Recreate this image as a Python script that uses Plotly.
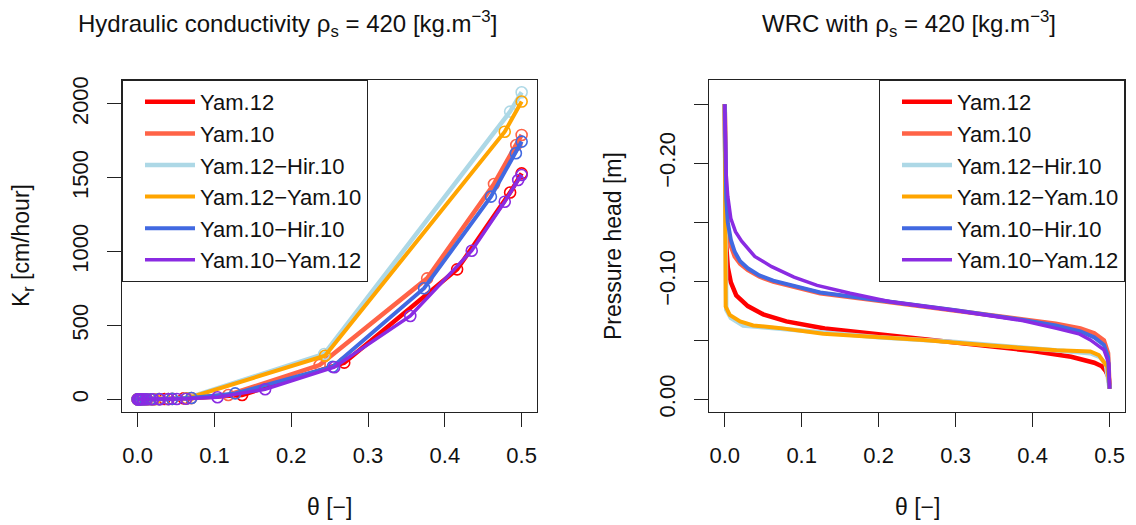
import plotly.graph_objects as go

W, H = 1136, 525

names = ['Yam.12', 'Yam.10', 'Yam.12−Hir.10', 'Yam.12−Yam.10', 'Yam.10−Hir.10', 'Yam.10−Yam.12']
colors = ['#ff0000', '#ff6347', '#add8e6', '#ffa500', '#4169e1', '#8a2be2']
widths = [4.5, 4.5, 4.5, 4, 4, 3.5]

# ---- hydraulic conductivity (left panel)
kr_theta = [
    [0, 0.001, 0.002, 0.004, 0.007, 0.012, 0.02, 0.035, 0.06, 0.136, 0.269, 0.416, 0.485, 0.5],
    [0, 0.001, 0.003, 0.006, 0.01, 0.017, 0.028, 0.045, 0.07, 0.118, 0.237, 0.377, 0.464, 0.493, 0.5],
    [0, 0.001, 0.003, 0.006, 0.012, 0.022, 0.04, 0.063, 0.243, 0.485, 0.5],
    [0, 0.001, 0.003, 0.006, 0.012, 0.022, 0.04, 0.064, 0.244, 0.478, 0.5],
    [0, 0.001, 0.003, 0.006, 0.01, 0.017, 0.028, 0.045, 0.07, 0.127, 0.254, 0.373, 0.46, 0.4925, 0.5],
    [0, 0.001, 0.002, 0.004, 0.007, 0.012, 0.02, 0.029, 0.04, 0.051, 0.063, 0.104, 0.166, 0.256, 0.355,
     0.435, 0.478, 0.4955, 0.5],
]
kr_values = [
    [0, 0, 0, 0.01, 0.05, 0.2, 0.6, 2, 6, 29, 248, 880, 1400, 1530],
    [0, 0, 0, 0.02, 0.1, 0.3, 1, 3, 8, 29, 232, 819, 1458, 1722, 1790],
    [0, 0, 0, 0.01, 0.1, 0.5, 2, 6, 307, 1948, 2079],
    [0, 0, 0, 0.01, 0.1, 0.5, 2, 6, 295, 1812, 2016],
    [0, 0, 0, 0.02, 0.1, 0.3, 1, 3, 9, 40, 220, 752, 1372, 1666, 1745],
    [0, 0, 0, 0, 0.01, 0.05, 0.2, 0.5, 1, 2, 4, 14, 68, 217, 564, 1006, 1338, 1485, 1519],
]

# ---- water retention curve (right panel)
wrc_theta = [
    [0, 0.0005, 0.001, 0.002, 0.004, 0.008, 0.015, 0.03, 0.05, 0.08, 0.13, 0.2, 0.3, 0.4, 0.45, 0.48,
     0.49, 0.495, 0.499, 0.5],
    [0, 0.0005, 0.001, 0.002, 0.004, 0.008, 0.013, 0.02, 0.03, 0.045, 0.063, 0.09, 0.124, 0.193, 0.3,
     0.388, 0.43, 0.462, 0.48, 0.4926, 0.498, 0.5],
    [0, 0.0005, 0.001, 0.002, 0.008, 0.024, 0.05, 0.1, 0.2, 0.3, 0.4, 0.45, 0.475, 0.487, 0.495, 0.5],
    [0, 0.0005, 0.001, 0.0013, 0.0065, 0.02, 0.037, 0.07, 0.128, 0.2, 0.258, 0.345, 0.431, 0.475, 0.486,
     0.497, 0.5],
    [0, 0.0005, 0.001, 0.002, 0.004, 0.008, 0.013, 0.02, 0.03, 0.045, 0.063, 0.09, 0.124, 0.193, 0.3,
     0.388, 0.43, 0.462, 0.48, 0.4926, 0.498, 0.5],
    [0, 0.0005, 0.001, 0.002, 0.004, 0.008, 0.014, 0.022, 0.039, 0.061, 0.09, 0.12, 0.163, 0.215, 0.302,
     0.388, 0.431, 0.46, 0.475, 0.4926, 0.499, 0.5],
]
wrc_head = [
    [-0.25, -0.2, -0.16, -0.13, -0.112, -0.099, -0.088, -0.079, -0.072, -0.066, -0.06, -0.055, -0.048,
     -0.041, -0.036, -0.031, -0.028, -0.024, -0.018, -0.009],
    [-0.25, -0.22, -0.19, -0.165, -0.145, -0.13, -0.121, -0.115, -0.1096, -0.104, -0.0997, -0.095,
     -0.0898, -0.0842, -0.0755, -0.0678, -0.064, -0.0601, -0.056, -0.05, -0.039, -0.009],
    [-0.25, -0.2, -0.14, -0.076, -0.069, -0.0625, -0.061, -0.058, -0.0525, -0.0485, -0.043, -0.0405,
     -0.039, -0.036, -0.03, -0.009],
    [-0.25, -0.2, -0.14, -0.0785, -0.0715, -0.066, -0.0625, -0.0605, -0.0555, -0.0525, -0.0503, -0.0455,
     -0.0415, -0.0405, -0.0375, -0.0276, -0.009],
    [-0.25, -0.225, -0.195, -0.17, -0.15, -0.135, -0.125, -0.117, -0.111, -0.105, -0.1005, -0.0958,
     -0.0905, -0.0845, -0.0755, -0.0672, -0.0625, -0.0575, -0.0525, -0.046, -0.036, -0.009],
    [-0.25, -0.23, -0.21, -0.19, -0.172, -0.153, -0.142, -0.134, -0.121, -0.1124, -0.1035, -0.0965,
     -0.0898, -0.0827, -0.0751, -0.0666, -0.0601, -0.0555, -0.0503, -0.0418, -0.0305, -0.009],
]

theta_ticks = [0, 0.1, 0.2, 0.3, 0.4, 0.5]
theta_labels = ['0.0', '0.1', '0.2', '0.3', '0.4', '0.5']
kr_ticks = [0, 500, 1000, 1500, 2000]
head_ticks = [0, -0.05, -0.1, -0.15, -0.2, -0.25]
head_labels = ['0.00', '', '−0.10', '', '−0.20', '']

FONT = 'Liberation Sans, Arial, sans-serif'

fig = go.Figure()

for i, name in enumerate(names):
    fig.add_trace(go.Scatter(x=kr_theta[i], y=kr_values[i], mode='lines+markers',
                             line=dict(color=colors[i], width=widths[i]),
                             marker=dict(symbol='circle-open', size=11, color=colors[i],
                                         line=dict(width=1.6, color=colors[i])),
                             xaxis='x', yaxis='y', showlegend=False, hoverinfo='skip'))
    fig.add_trace(go.Scatter(x=wrc_theta[i], y=wrc_head[i], mode='lines',
                             line=dict(color=colors[i], width=widths[i]),
                             xaxis='x2', yaxis='y2', showlegend=False, hoverinfo='skip'))

# legend-only traces (line samples, as in the original)
for i, name in enumerate(names):
    for lg in ['legend', 'legend2']:
        fig.add_trace(go.Scatter(x=[None], y=[None], mode='lines', name=name,
                                 line=dict(color=colors[i], width=widths[i]),
                                 legend=lg, showlegend=True))


def px_x(v):
    return v / W


def px_y(v):
    return 1 - v / H


box_top, box_bot = 80, 411.7
axis_common = dict(showline=True, mirror=True, linecolor='#222', linewidth=1, showgrid=False,
                   zeroline=False, ticks='outside', ticklen=14, tickwidth=1, tickcolor='#222',
                   automargin=False, tickfont=dict(size=22, color='#111', family=FONT))
legend_common = dict(yanchor='top', bgcolor='white', bordercolor='#222', borderwidth=1,
                     font=dict(size=22, family=FONT, color='#111'),
                     itemwidth=50, indentation=17, tracegroupgap=0)

fig.update_layout(
    width=W, height=H,
    margin=dict(l=0, r=0, t=0, b=0),
    paper_bgcolor='white', plot_bgcolor='white',
    font=dict(family=FONT, size=22, color='#111'),
    xaxis=dict(domain=[px_x(122), px_x(537)], range=[-0.0204, 0.52], tickvals=theta_ticks,
               ticktext=theta_labels, ticklabelstandoff=10, anchor='y', **axis_common),
    yaxis=dict(domain=[px_y(box_bot), px_y(box_top)], range=[-84, 2162], tickvals=kr_ticks,
               tickangle=-90, ticklabelstandoff=10, anchor='x', **axis_common),
    xaxis2=dict(domain=[px_x(709), px_x(1125)], range=[-0.0204, 0.52], tickvals=theta_ticks,
                ticktext=theta_labels, ticklabelstandoff=10, anchor='y2', **axis_common),
    yaxis2=dict(domain=[px_y(box_bot), px_y(box_top)], range=[0.0105, -0.2705], tickvals=head_ticks,
                ticktext=head_labels, tickangle=-90, ticklabelstandoff=10, anchor='x2', **axis_common),
    legend=dict(x=px_x(122), y=px_y(80), xanchor='left', **legend_common),
    legend2=dict(x=px_x(1125), y=px_y(80), xanchor='right', **legend_common),
)

ann = dict(showarrow=False, xref='paper', yref='paper', font=dict(size=23, family=FONT, color='#111'))
title_font = dict(size=24, family=FONT, color='#111')
fig.add_annotation(text='Hydraulic conductivity ρ<sub>s</sub> = 420 [kg.m<sup>−3</sup>]',
                   x=px_x(287), y=px_y(24), xanchor='center', yanchor='middle',
                   **{**ann, 'font': title_font})
fig.add_annotation(text='WRC with ρ<sub>s</sub> = 420 [kg.m<sup>−3</sup>]',
                   x=px_x(909), y=px_y(24), xanchor='center', yanchor='middle',
                   **{**ann, 'font': title_font})
fig.add_annotation(text='θ [−]', x=px_x(329.5), y=px_y(507), xanchor='center', yanchor='middle', **ann)
fig.add_annotation(text='θ [−]', x=px_x(917), y=px_y(507), xanchor='center', yanchor='middle', **ann)
fig.add_annotation(text='K<sub>r</sub> [cm/hour]', x=px_x(22), y=px_y(246), textangle=-90,
                   xanchor='center', yanchor='middle', **ann)
fig.add_annotation(text='Pressure head [m]', x=px_x(613), y=px_y(246), textangle=-90,
                   xanchor='center', yanchor='middle', **ann)

# page body has a default 8px margin; drop it so the figure sits at the window origin
fig.write_html('out.html', config={'displayModeBar': False},
               post_script="document.body.style.margin='0';")
